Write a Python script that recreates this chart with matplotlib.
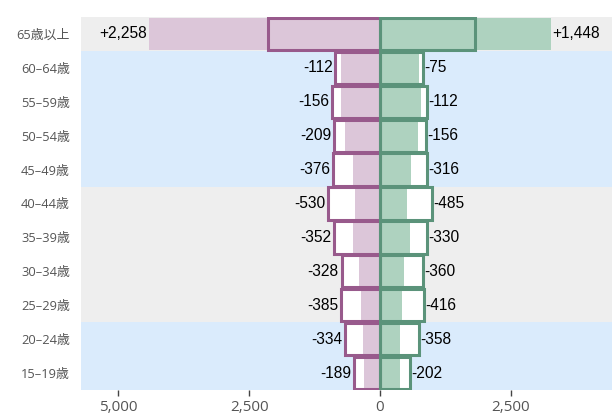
import matplotlib
matplotlib.use("Agg")
import matplotlib.pyplot as plt

# Age groups, top to bottom
ages = ["65歳以上", "60–64歳", "55–59歳", "50–54歳", "45–49歳", "40–44歳",
        "35–39歳", "30–34歳", "25–29歳", "20–24歳", "15–19歳"]

# Earlier period (outlined bars)
female_old = [2150, 855, 910, 885, 900, 1000, 870, 735, 745, 665, 500]
male_old = [1815, 825, 895, 875, 900, 995, 895, 825, 840, 750, 575]

# Change to the later period (filled bars = earlier + change)
female_change = [2258, -112, -156, -209, -376, -530, -352, -328, -385, -334, -189]
male_change = [1448, -75, -112, -156, -316, -485, -330, -360, -416, -358, -202]

# Row band colours
band_colors = ["#eeeeee"] + ["#daebfc"] * 4 + ["#eeeeee"] * 4 + ["#daebfc"] * 2

tick_values = [-5000, -2500, 0, 2500]
tick_labels = ["5,000", "2,500", "0", "2,500"]

female_new = [o + c for o, c in zip(female_old, female_change)]
male_new = [o + c for o, c in zip(male_old, male_change)]

F_FILL, F_EDGE = "#dcc6d9", "#985a8c"
M_FILL, M_EDGE = "#aed2bf", "#5b937a"

fig = plt.figure(figsize=(6.12, 4.17), dpi=100)
ax = fig.add_axes([81 / 612, 1 - 390 / 417, 1 - 81 / 612, (390 - 17) / 417])

y = list(range(len(ages)))
for yi, c in zip(y, band_colors):
    ax.axhspan(yi - 0.5, yi + 0.5, color=c, lw=0, zorder=0)

h = 0.95
lw = 2.2
# white backing for the earlier-period bars
ax.barh(y, [-v for v in female_old], height=h, color="white", lw=0, zorder=1)
ax.barh(y, male_old, height=h, color="white", lw=0, zorder=1)
# later-period filled bars
ax.barh(y, [-v for v in female_new], height=h, color=F_FILL, lw=0, zorder=2)
ax.barh(y, male_new, height=h, color=M_FILL, lw=0, zorder=2)
# earlier-period outlines
ax.barh(y, [-v for v in female_old], height=h, facecolor="none",
        edgecolor=F_EDGE, lw=lw, zorder=3)
ax.barh(y, male_old, height=h, facecolor="none",
        edgecolor=M_EDGE, lw=lw, zorder=3)

label_font = dict(family=["Liberation Sans", "DejaVu Sans"], size=11.2, color="black")
for yi, fo, fn, fc in zip(y, female_old, female_new, female_change):
    ax.annotate(f"{fc:+,}", xy=(-max(fo, fn), yi), xytext=(-2, 0),
                textcoords="offset points", ha="right", va="center",
                zorder=4, **label_font)
for yi, mo, mn, mc in zip(y, male_old, male_new, male_change):
    ax.annotate(f"{mc:+,}", xy=(max(mo, mn), yi), xytext=(1, 0),
                textcoords="offset points", ha="left", va="center",
                zorder=4, **label_font)

ax.set_xlim(-5717, 4436)
ax.set_ylim(len(ages) - 0.5, -0.5)

ax.set_yticks(y)
ax.set_yticklabels(ages, family=["Open Sans", "Noto Sans CJK JP"], fontsize=9.3,
                   color="#555555")
ax.tick_params(axis="y", length=0, pad=8)

ax.set_xticks(tick_values)
ax.set_xticklabels(tick_labels, family=["Open Sans", "DejaVu Sans"], fontsize=11,
                   color="#555555")
ax.tick_params(axis="x", length=4, width=1, color="#444444", pad=3)

for s in ax.spines.values():
    s.set_visible(False)

fig.savefig("out.png", dpi=100, facecolor="white")
